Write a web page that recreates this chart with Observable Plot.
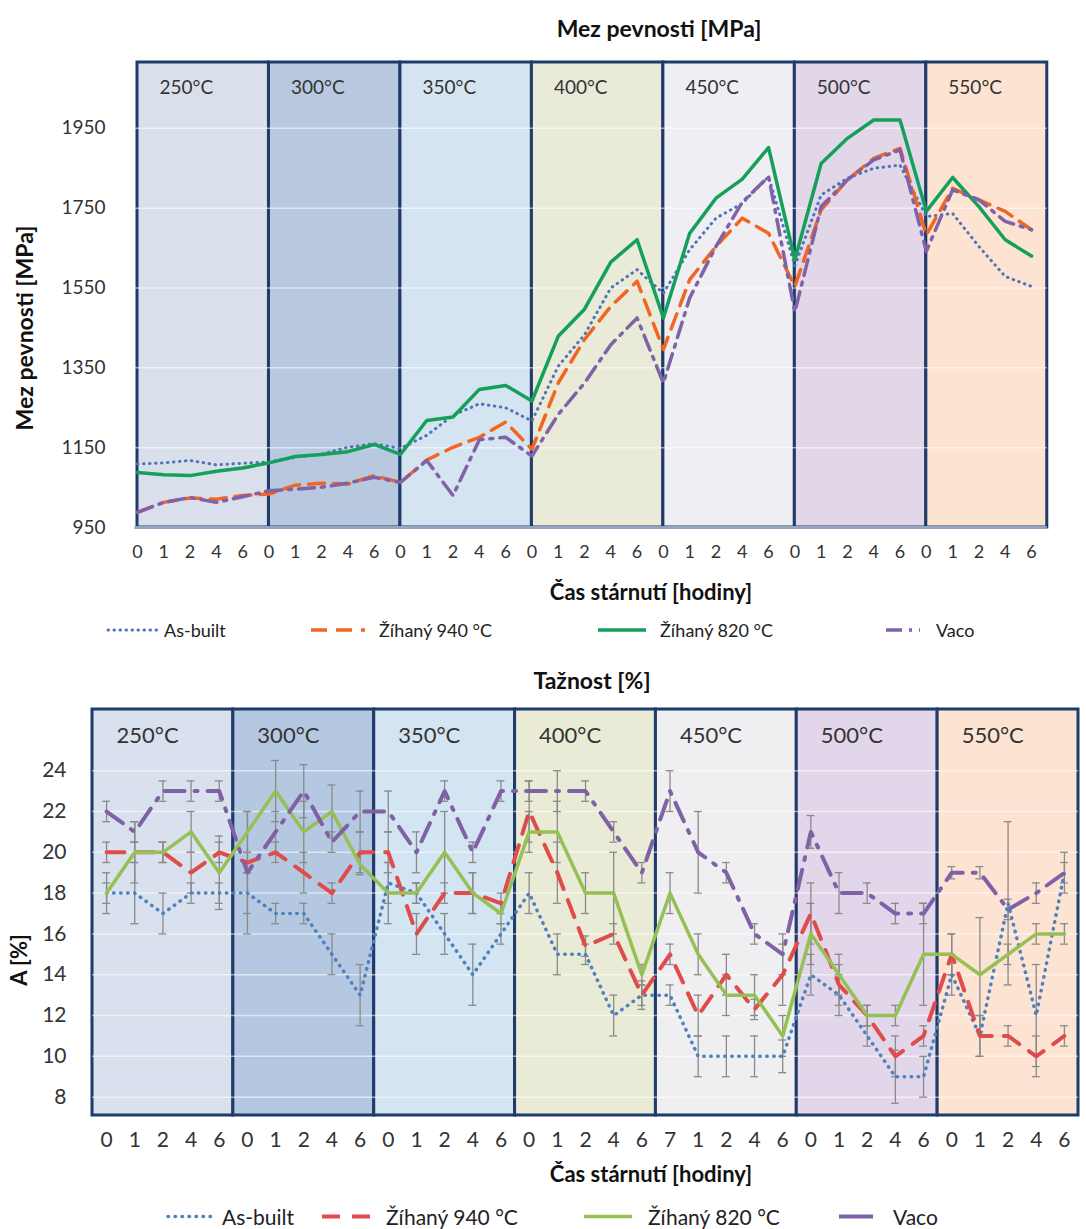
<!DOCTYPE html>
<html><head><meta charset="utf-8">
<script src="https://cdn.jsdelivr.net/npm/d3@7"></script>
<script src="https://cdn.jsdelivr.net/npm/@observablehq/plot@0.6"></script>
<style>
body{margin:0;background:#fff;}
#page{position:relative;width:1086px;height:1229px;font-family:Lato,"Open Sans",sans-serif;color:#262626;overflow:hidden}
.abs{position:absolute;white-space:nowrap;line-height:1}
.plot{position:absolute;left:0}
.leg{position:absolute;display:flex;align-items:center;white-space:nowrap;transform:translateY(-50%)}
</style></head><body><div id="page"></div>
<script>
// ---------- data ----------
const groups = ["250°C","300°C","350°C","400°C","450°C","500°C","550°C"];
const timeLabelsTop = ["0","1","2","4","6","0","1","2","4","6","0","1","2","4","6","0","1","2","4","6","0","1","2","4","6","0","1","2","4","6","0","1","2","4","6"];
const timeLabelsBottom = ["0","1","2","4","6","0","1","2","4","6","0","1","2","4","6","0","1","2","4","6","7","1","2","4","6","0","1","2","4","6","0","1","2","4","6"];
const seriesNames = ["As-built","Žíhaný 940 °C","Žíhaný 820 °C","Vaco"];

// Mez pevnosti [MPa]
const topAsBuilt = [1109,1112,1118,1107,1111, 1114,1126,1134,1151,1160, 1148,1181,1231,1260,1250, 1217,1354,1433,1550,1596, 1537,1646,1725,1762,1829, 1606,1783,1825,1850,1858, 1729,1737,1654,1579,1554];
const top940     = [988,1013,1024,1021,1030, 1034,1056,1061,1059,1080, 1063,1119,1151,1176,1214, 1146,1312,1421,1504,1567, 1396,1571,1654,1725,1687, 1554,1746,1821,1875,1900, 1683,1800,1771,1742,1696];
const top820     = [1088,1082,1080,1091,1099, 1112,1128,1133,1140,1158, 1133,1218,1227,1296,1306, 1267,1429,1497,1615,1671, 1475,1687,1775,1823,1902, 1621,1862,1925,1971,1971, 1742,1827,1754,1671,1630];
const topVaco    = [988,1013,1025,1013,1027, 1042,1046,1051,1061,1076, 1063,1118,1030,1170,1176, 1129,1233,1312,1408,1475, 1312,1525,1654,1765,1829, 1490,1754,1821,1871,1896, 1642,1796,1771,1717,1696];
const topYTicks = [950,1150,1350,1550,1750,1950];

// Tažnost [%]
const botAsBuilt = [18,18,17,18,18, 18,17,17,15,13, 18.5,18,16,14,16, 18,15,15,12,13, 13,10,10,10,10, 14,13,11,9,9, 14,11,17.5,12,19];
const bot940     = [20,20,20,19,20, 19.5,20,19,18,20, 20,16,18,18,17.5, 22,19,15.4,16,13, 15,12,14,12.3,14, 17,13.5,12,10,11, 15,11,11,10,11];
const bot820     = [18,20,20,21,19, 21,23,21,22,19.4, 18,18,20,18,17, 21,21,18,18,14, 18,15,13,13,11, 16,14,12,12,15, 15,14,15,16,16];
const botVaco    = [22,21,23,23,23, 19,21,23,20.5,22, 22,20,23,20,23, 23,23,23,21,19, 23,20,19,16,15, 21,18,18,17,17, 19,19,17.2,18,19];
// error bars (± %)
const errAsBuilt = [1,1.5,1,0.5,0.5, 1,0.5,0.5,1,1.5, 1,0.5,1,1.5,0.5, 1,1,0.5,1,0.7, 0.5,1,1,1,0.8, 1,1,0.5,1.3,1, 1,1,4,2.5,1];
const err940     = [0.5,0.5,0.5,1,0.5, 0.5,0.5,1,0.5,1, 1,1,0.5,1,0.5, 1.5,1.5,0.5,0.5,0.5, 0.5,1,1,0.5,1.5, 1.5,1,0.5,1,0.5, 1,1,0.5,1,0.5];
const err820     = [0.5,1.5,0.5,1,1.8, 1,1.5,1.5,1.3,0.5, 1.5,0.5,2,1,0.5, 1,1.5,1,2,0.5, 1,1,1,1,1, 1.5,1,0.5,0.5,2.5, 1,2.8,0.5,0.5,0.5];
const errVaco    = [0.5,0.5,0.5,0.5,0.5, 3,1,1.3,0.5,1, 1,1,0.5,0.5,0.5, 0.5,1,0.5,0.5,0.5, 1,2,0.5,0.5,1, 0.8,1,0.5,0.5,0.5, 0.3,0.3,0.5,0.5,0.5];
const botYTicks = [8,10,12,14,16,18,20,22,24];

// ---------- styles ----------
const topFills = ["#d9e0ec","#b7c8df","#d4e4f1","#e9ebd8","#efeff3","#e1d7e9","#fde3d1"];
const botFills = ["#d9e1ee","#b5c8e1","#d3e4f3","#eaebd6","#efeff2","#e2d7ea","#fde4d2"];
const navy = "#1f3b6a";
const topStyle = [
  {stroke:"#4f72b8", strokeWidth:3, strokeDasharray:"0.5,5.5", strokeLinecap:"round"},
  {stroke:"#f26522", strokeWidth:3.5, strokeDasharray:"16,9"},
  {stroke:"#14a05a", strokeWidth:3.5},
  {stroke:"#8062a8", strokeWidth:3.5, strokeDasharray:"16,7,3,7"}
];
const botStyle = [
  {stroke:"#4f81bd", strokeWidth:3.5, strokeDasharray:"0.5,6.5", strokeLinecap:"round"},
  {stroke:"#e04b4b", strokeWidth:4, strokeDasharray:"18,12"},
  {stroke:"#94c054", strokeWidth:3.5},
  {stroke:"#7f62a6", strokeWidth:4, strokeDasharray:"20,10,3,10"}
];

const page = document.getElementById("page");
const idx = (d,i) => i;
const val = d => d;

// ---------- top chart ----------
const topSeries = [topAsBuilt, top940, top820, topVaco];
const topPlot = Plot.plot({
  width: 1086, height: 600,
  marginLeft: 137, marginRight: 55, marginTop: 62, marginBottom: 73,
  x: {domain: [0, 34]},
  y: {domain: [950, 2115]},
  color: {type: "identity"},
  style: {fontFamily: "Lato, sans-serif", color: "#333", background: "transparent", overflow: "visible"},
  marks: [
    Plot.rect(groups, {x1: (d,i)=>i*5, x2: (d,i)=> i===6 ? 34.6 : i*5+5, y1: ()=>950, y2: ()=>2115, fill: (d,i)=>topFills[i], stroke: navy, strokeWidth: 3}),
    Plot.ruleY(topYTicks.slice(1), {x1: ()=>-0.35, x2: ()=>34.6, stroke: "#ffffff", strokeOpacity: 0.55, strokeWidth: 1.5}),
    Plot.ruleY([950], {x1: ()=>-0.1, x2: ()=>34.6, stroke: "#95a5bf", strokeWidth: 3}),
    Plot.text(groups, {x: (d,i)=>i*5, y: ()=>2115, text: d=>d, dx: 22, dy: 25, textAnchor: "start", fontSize: 19, fill: "#333"}),
    ...topSeries.map((s,k)=>Plot.line(s, {x: idx, y: val, ...topStyle[k]})),
    Plot.axisY({ticks: topYTicks, tickFormat: d=>String(d), tickSize: 0, tickPadding: 32, fontSize: 19, label: null}),
    Plot.axisX({ticks: d3.range(35), tickFormat: i=>timeLabelsTop[i], tickSize: 0, tickPadding: 18, fontSize: 18, label: null})
  ]
});
topPlot.classList.add("plot");
topPlot.style.top = "0px";
page.appendChild(topPlot);

// ---------- bottom chart ----------
const botSeries = [botAsBuilt, bot940, bot820, botVaco];
const botErrs = [errAsBuilt, err940, err820, errVaco];
const errData = botSeries.flatMap((s,k)=>s.map((v,i)=>({i, v, e: botErrs[k][i]}))).filter(d=>d.e>0);
const botPlot = Plot.plot({
  width: 1086, height: 520,
  marginLeft: 92, marginRight: 8, marginTop: 59, marginBottom: 55,
  x: {domain: [-0.5, 34.5]},
  y: {domain: [7.1, 27]},
  color: {type: "identity"},
  style: {fontFamily: "Lato, sans-serif", color: "#333", background: "transparent", overflow: "visible"},
  marks: [
    Plot.rect(groups, {x1: (d,i)=>i*5-0.5, x2: (d,i)=>i*5+4.5, y1: ()=>7.1, y2: ()=>27, fill: (d,i)=>botFills[i], stroke: navy, strokeWidth: 3}),
    Plot.ruleY(botYTicks, {x1: ()=>-0.5, x2: ()=>34.5, stroke: "#ffffff", strokeOpacity: 0.55, strokeWidth: 1.5}),
    Plot.text(groups, {x: (d,i)=>i*5-0.5, y: ()=>27, text: d=>d, dx: 24, dy: 26, textAnchor: "start", fontSize: 22, fill: "#333"}),
    Plot.ruleX(errData, {x: "i", y1: d=>d.v-d.e, y2: d=>d.v+d.e, stroke: "#8a8a8a", strokeWidth: 1.3}),
    Plot.ruleY(errData, {y: d=>d.v-d.e, x1: d=>d.i-0.14, x2: d=>d.i+0.14, stroke: "#8a8a8a", strokeWidth: 1.3}),
    Plot.ruleY(errData, {y: d=>d.v+d.e, x1: d=>d.i-0.14, x2: d=>d.i+0.14, stroke: "#8a8a8a", strokeWidth: 1.3}),
    ...botSeries.map((s,k)=>Plot.line(s, {x: idx, y: val, ...botStyle[k]})),
    Plot.axisY({ticks: botYTicks, tickSize: 0, tickPadding: 26, fontSize: 21, label: null}),
    Plot.axisX({ticks: d3.range(35), tickFormat: i=>timeLabelsBottom[i], tickSize: 0, tickPadding: 17, fontSize: 21, label: null})
  ]
});
botPlot.classList.add("plot");
botPlot.style.top = "650px";
page.appendChild(botPlot);

// ---------- titles ----------
function addText(txt, x, y, size, bold, rotate) {
  const el = document.createElement("div");
  el.className = "abs";
  el.textContent = txt;
  el.style.left = x + "px";
  el.style.top = y + "px";
  el.style.fontSize = size + "px";
  el.style.fontWeight = bold ? "bold" : "normal";
  el.style.color = "#111";
  el.style.transform = "translate(-50%,-50%)" + (rotate ? " rotate(-90deg)" : "");
  page.appendChild(el);
}
addText("Mez pevnosti [MPa]", 659, 28, 23, true);
addText("Mez pevnosti [MPa]", 24, 328, 23, true, true);
addText("Čas stárnutí [hodiny]", 651, 592, 22, true);
addText("Tažnost [%]", 592, 680, 23, true);
addText("A [%]", 19, 960, 22, true, true);
addText("Čas stárnutí [hodiny]", 651, 1174, 22, true);

// ---------- legends ----------
function addLegend(x, y, w, style, label, size, gap) {
  const el = document.createElement("div");
  el.className = "leg";
  el.style.left = x + "px";
  el.style.top = y + "px";
  el.style.fontSize = size + "px";
  el.style.color = "#222";
  const dash = style.strokeDasharray ? `stroke-dasharray="${style.strokeDasharray}"` : "";
  const cap = style.strokeLinecap ? `stroke-linecap="${style.strokeLinecap}"` : "";
  el.innerHTML = `<svg width="${w}" height="12" style="overflow:visible;margin-right:${gap}px"><line x1="2" x2="${w-2}" y1="6" y2="6" stroke="${style.stroke}" stroke-width="${style.strokeWidth}" ${dash} ${cap}/></svg><span>${label}</span>`;
  page.appendChild(el);
}
const topLegX = [106, 309, 596, 884];
const topLegW = [56, 58, 52, 38];
const topLegGap = [2, 12, 12, 14];
seriesNames.forEach((n,k)=>addLegend(topLegX[k], 630, topLegW[k], topStyle[k], n, 18, topLegGap[k]));
const botLegX = [166, 320, 582, 837];
const botLegW = [52, 52, 52, 38];
const botLegGap = [4, 14, 14, 18];
const botLegStyle = [botStyle[0], botStyle[1], botStyle[2], {stroke: botStyle[3].stroke, strokeWidth: 4}];
seriesNames.forEach((n,k)=>addLegend(botLegX[k], 1216, botLegW[k], botLegStyle[k], n, 21, botLegGap[k]));
</script>
</body></html>
